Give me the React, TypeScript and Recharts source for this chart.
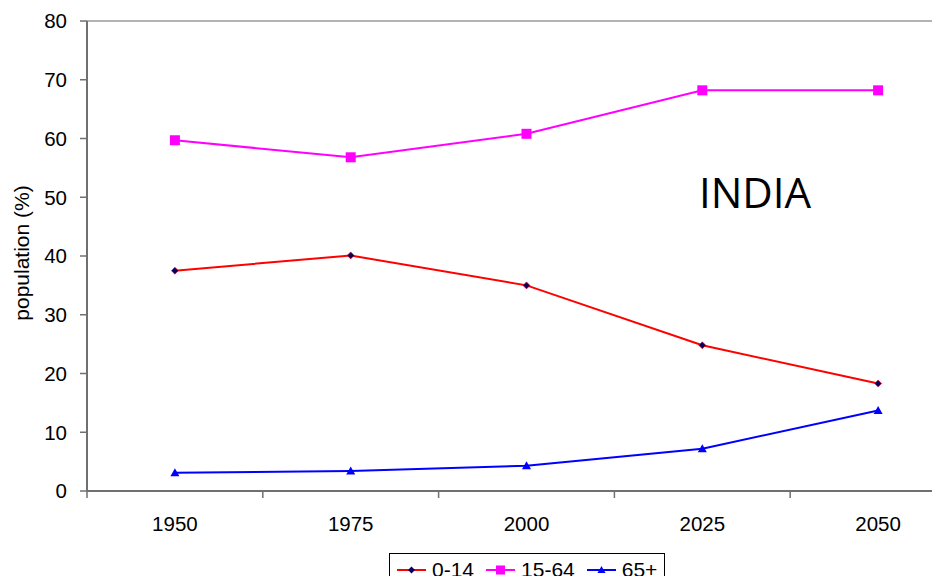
import React from 'react';
import {
  Legend, Line, LineChart, ReferenceDot, ReferenceLine, XAxis, YAxis,
} from 'recharts';

const years = ['1950', '1975', '2000', '2025', '2050'];
const age0to14 = [37.5, 40.1, 35.0, 24.8, 18.3];
const age15to64 = [59.7, 56.8, 60.8, 68.2, 68.2];
const age65plus = [3.1, 3.4, 4.3, 7.2, 13.7];
const yTicks = [0, 10, 20, 30, 40, 50, 60, 70, 80];
const bandEdges = [0, 1, 2, 3, 4, 5];

const seriesNames = ['0-14', '15-64', '65+'];
const countryName = 'INDIA';
const countryLabelAt = { x: 3.8, y: 48.2 };

const CHART_W = 980;
const CHART_H = 590;
const MARGIN = { top: 21, right: 14, bottom: 0, left: 0 };
const Y_AXIS_W = 87;
const LEGEND_H = 36;
const HALF_BAND = (CHART_W - MARGIN.left - MARGIN.right - Y_AXIS_W) / years.length / 2;
const FONT = '"Liberation Sans", Arial, sans-serif';
const AXIS_GREY = '#707070';

const data = years.map((year, i) => ({
  pos: i + 0.5,
  year,
  young: age0to14[i],
  working: age15to64[i],
  old: age65plus[i],
}));

function DiamondDot(props: any) {
  const { cx, cy } = props;
  if (cx == null || cy == null) return <g />;
  const r = 3.5;
  return (
    <path
      d={`M${cx},${cy - r}L${cx + r},${cy}L${cx},${cy + r}L${cx - r},${cy}Z`}
      fill='#000066'
      stroke='#ff0000'
      strokeWidth={0.6}
    />
  );
}

function SquareDot(props: any) {
  const { cx, cy } = props;
  if (cx == null || cy == null) return <g />;
  return <rect x={cx - 5} y={cy - 5} width={10} height={10} fill='#ff00ff' />;
}

function TriangleDot(props: any) {
  const { cx, cy } = props;
  if (cx == null || cy == null) return <g />;
  return <path d={`M${cx},${cy - 4.5}L${cx + 4.5},${cy + 3.5}L${cx - 4.5},${cy + 3.5}Z`} fill='#0000ff' />;
}

function YearTick(props: any) {
  const { x, y, payload } = props;
  const i = Math.round(payload.value);
  if (i >= years.length) return <g />;
  return (
    <text x={x + HALF_BAND} y={y + 31} textAnchor='middle' fill='#000' fontSize={20.5} fontFamily={FONT}>
      {years[i]}
    </text>
  );
}

function YLabel() {
  return (
    <text
      x={29}
      y={253}
      transform='rotate(-90, 29, 253)'
      textAnchor='middle'
      fill='#000'
      fontSize={21}
      fontFamily={FONT}
    >
      population (%)
    </text>
  );
}

function CountryLabel(props: any) {
  const { cx, cy } = props;
  return (
    <text x={cx} y={cy} textAnchor='middle' fill='#000' fontSize={42} fontFamily='"Open Sans", Lato, sans-serif'>
      {countryName}
    </text>
  );
}

function LegendIcon({ color, marker }: { color: string; marker: string }) {
  return (
    <svg width={29} height={12} style={{ display: 'block' }}>
      <line x1={0} y1={6} x2={29} y2={6} stroke={color} strokeWidth={2} />
      {marker === 'diamond' && <path d='M14.5,2.5L18,6L14.5,9.5L11,6Z' fill='#000066' />}
      {marker === 'square' && <rect x={10} y={1.5} width={9} height={9} fill='#ff00ff' />}
      {marker === 'triangle' && <path d='M14.5,2L18.5,9L10.5,9Z' fill='#0000ff' />}
    </svg>
  );
}

function LegendBox() {
  const items = [
    { name: seriesNames[0], color: '#ff0000', marker: 'diamond' },
    { name: seriesNames[1], color: '#ff00ff', marker: 'square' },
    { name: seriesNames[2], color: '#0000ff', marker: 'triangle' },
  ];
  return (
    <div
      style={{
        display: 'flex',
        alignItems: 'center',
        height: LEGEND_H,
        boxSizing: 'border-box',
        border: '1px solid #000',
        background: '#fff',
        padding: '0 7px 3px 7px',
        fontFamily: FONT,
        fontSize: 21,
        color: '#000',
        whiteSpace: 'nowrap',
      }}
    >
      {items.map((it, i) => (
        <div key={it.name} style={{ display: 'flex', alignItems: 'center', marginLeft: i === 0 ? 0 : 12 }}>
          <LegendIcon color={it.color} marker={it.marker} />
          <span style={{ marginLeft: 6 }}>{it.name}</span>
        </div>
      ))}
    </div>
  );
}

export default function App(): JSX.Element {
  return (
    <div style={{ margin: -8, width: 940, height: 584, overflow: 'hidden', background: '#fff', position: 'relative' }}>
      <LineChart width={CHART_W} height={CHART_H} data={data} margin={MARGIN}>
        <XAxis
          dataKey='pos'
          type='number'
          domain={[0, 5]}
          ticks={bandEdges}
          interval={0}
          height={CHART_H - 491 - LEGEND_H}
          tickSize={7}
          axisLine={{ stroke: AXIS_GREY, strokeWidth: 2 }}
          tickLine={{ stroke: AXIS_GREY, strokeWidth: 1.5 }}
          tick={<YearTick />}
        />
        <YAxis
          type='number'
          domain={[0, 80]}
          ticks={yTicks}
          interval={0}
          width={Y_AXIS_W}
          tickSize={7}
          tickMargin={13}
          axisLine={{ stroke: AXIS_GREY, strokeWidth: 2 }}
          tickLine={{ stroke: AXIS_GREY, strokeWidth: 1.5 }}
          tick={{ fill: '#000', fontSize: 20.5, fontFamily: FONT }}
          label={<YLabel />}
        />
        <ReferenceLine y={80} stroke='#b3b3b3' strokeWidth={2} />
        <Line
          dataKey='young'
          name={seriesNames[0]}
          stroke='#ff0000'
          strokeWidth={2}
          dot={<DiamondDot />}
          isAnimationActive={false}
        />
        <Line
          dataKey='working'
          name={seriesNames[1]}
          stroke='#ff00ff'
          strokeWidth={2}
          dot={<SquareDot />}
          isAnimationActive={false}
        />
        <Line
          dataKey='old'
          name={seriesNames[2]}
          stroke='#0000ff'
          strokeWidth={2}
          dot={<TriangleDot />}
          isAnimationActive={false}
        />
        <ReferenceDot x={countryLabelAt.x} y={countryLabelAt.y} r={0} shape={<CountryLabel />} />
        <Legend
          verticalAlign='bottom'
          content={<LegendBox />}
          wrapperStyle={{ left: 389, top: 553, bottom: 'auto', width: 'auto' }}
        />
      </LineChart>
    </div>
  );
}
